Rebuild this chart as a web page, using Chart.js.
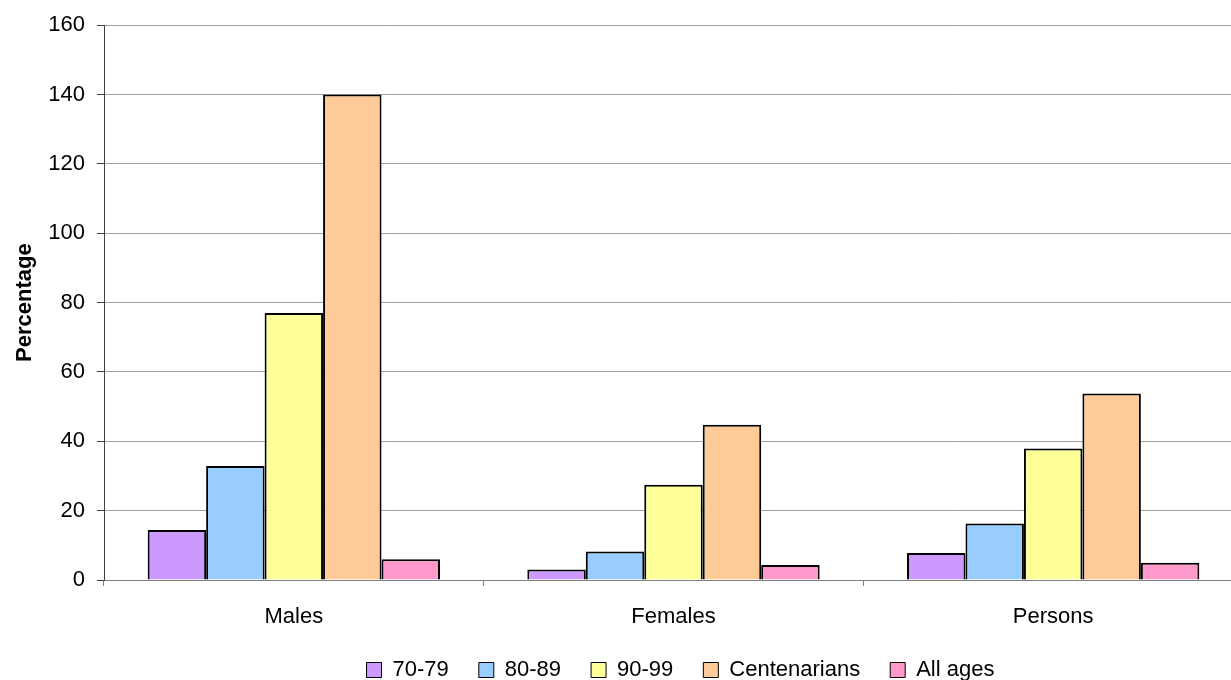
<!DOCTYPE html>
<html>
<head>
<meta charset="utf-8">
<script src="https://cdn.jsdelivr.net/npm/chart.js@4"></script>
<style>
  html, body { margin: 0; padding: 0; background: #fff; overflow: hidden; }
  #wrap { position: relative; width: 1243px; height: 680px; }
</style>
</head>
<body>
<div id="wrap"><canvas id="c"></canvas></div>
<script>
// Groups along the x axis
const categories = ['Males', 'Females', 'Persons'];

// Percentages for each age band
const age70to79 = [14.4, 3.0, 7.8];
const age80to89 = [32.9, 8.2, 16.3];
const age90to99 = [77.0, 27.5, 37.9];
const centenarians = [140.0, 44.8, 53.8];
const allAges = [6.0, 4.3, 5.0];

const seriesNames = ['70-79', '80-89', '90-99', 'Centenarians', 'All ages'];
const seriesColors = ['#CC99FF', '#99CCFF', '#FFFF99', '#FFCC99', '#FF99CC'];
const seriesValues = [age70to79, age80to89, age90to99, centenarians, allAges];

// Y axis tick values
const yTicks = [0, 20, 40, 60, 80, 100, 120, 140, 160];

const FONT = 'Liberation Sans, Arial, sans-serif';

// Centre the legend under the plot area rather than the whole canvas
const legendUnderPlot = {
  id: 'legendUnderPlot',
  afterLayout(chart) {
    const lg = chart.legend;
    if (!lg) return;
    const shift = 59;
    lg.left += shift;
    lg.right += shift;
  }
};

new Chart(document.getElementById('c'), {
  type: 'bar',
  data: {
    labels: categories,
    datasets: seriesNames.map((name, i) => ({
      label: name,
      data: seriesValues[i],
      backgroundColor: seriesColors[i],
      borderColor: '#000',
      borderWidth: 2,
      borderSkipped: 'bottom',
      categoryPercentage: 0.77,
      barPercentage: 1.0
    }))
  },
  plugins: [legendUnderPlot],
  options: {
    responsive: true,
    maintainAspectRatio: false,
    animation: false,
    devicePixelRatio: 1,
    layout: { padding: { top: 21, right: 0, left: 0, bottom: -11 } },
    plugins: {
      tooltip: { enabled: false },
      legend: {
        position: 'bottom',
        labels: {
          font: { family: FONT, size: 22 },
          color: '#000',
          boxWidth: 15,
          boxHeight: 15,
          padding: 30,
          generateLabels: (chart) => chart.data.datasets.map((ds, i) => ({
            text: ds.label,
            fillStyle: ds.backgroundColor,
            strokeStyle: '#000',
            lineWidth: 1,
            fontColor: '#000',
            datasetIndex: i
          }))
        }
      }
    },
    scales: {
      x: {
        grid: {
          drawOnChartArea: false,
          drawTicks: true,
          tickLength: 6,
          tickColor: '#808080',
          offset: true
        },
        border: { color: '#808080', width: 1 },
        ticks: {
          font: { family: FONT, size: 22 },
          color: '#000',
          padding: 18
        },
        afterFit: (axis) => { axis.height = 49; }
      },
      y: {
        min: 0,
        max: 160,
        afterBuildTicks: (axis) => { axis.ticks = yTicks.map(v => ({ value: v })); },
        grid: {
          color: '#A0A0A0',
          lineWidth: 1,
          tickLength: 7,
          tickColor: '#404040'
        },
        border: { color: '#404040', width: 1 },
        ticks: {
          font: { family: FONT, size: 22 },
          color: '#000',
          padding: 12
        },
        title: {
          display: true,
          text: 'Percentage',
          font: { family: FONT, size: 22, weight: 'bold' },
          color: '#000',
          padding: { top: 12, bottom: 0 }
        },
        afterFit: (axis) => { axis.width = 104; }
      }
    }
  }
});
</script>
</body>
</html>
